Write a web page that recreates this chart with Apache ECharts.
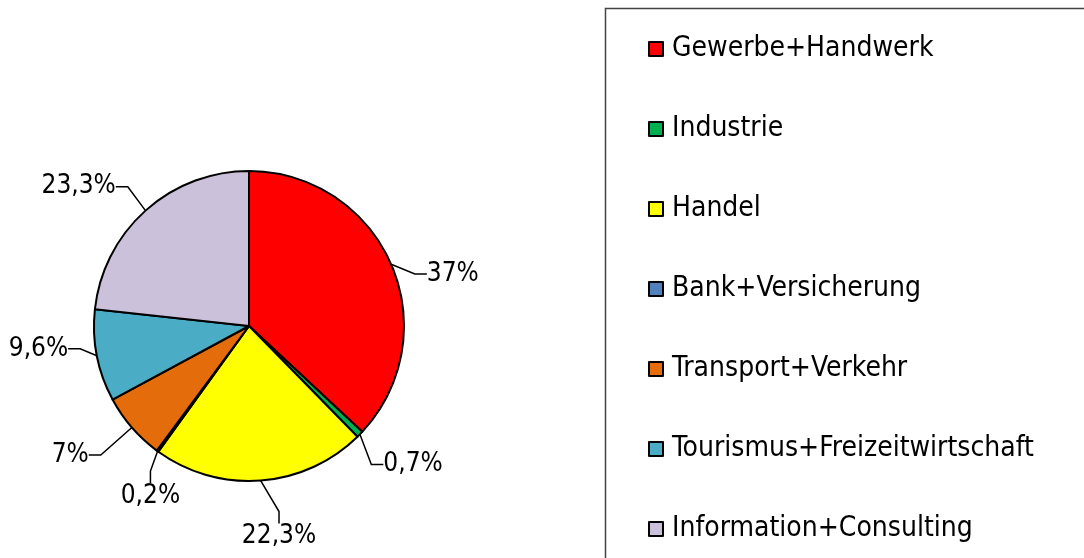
<!DOCTYPE html>
<html>
<head>
<meta charset="utf-8">
<script type="text/javascript" src="https://cdn.jsdelivr.net/npm/echarts@6/dist/echarts.min.js"></script>
<style>
 body { margin: 0; background: #fff; }
 #chart { width: 1084px; height: 558px; }
</style>
</head>
<body>
<div id="chart"></div>
<script type="text/javascript">
// branch names and shares (percent), clockwise from 12 o'clock
var branchNames = ['Gewerbe+Handwerk', 'Industrie', 'Handel', 'Bank+Versicherung',
                   'Transport+Verkehr', 'Tourismus+Freizeitwirtschaft', 'Information+Consulting'];
var branchShares = [37, 0.7, 22.3, 0.2, 7, 9.6, 23.3];
var branchColors = ['#ff0000', '#00b050', '#ffff00', '#4f81bd', '#e46c0a', '#4bacc6', '#ccc1da'];

// nudges of each percent label from where echarts puts it (excel places them a bit lower)
var labelNudgeX = [4, -5, -37, 49, -14, 4, -2];
var labelNudgeY = [16, 19, 40, 32, 17, -10, -12];

var fontName = '"DejaVu Sans Condensed", "DejaVu Sans", sans-serif';

var pieData = [];
for (var i = 0; i < branchNames.length; i++) {
 pieData.push({ name: branchNames[i], value: branchShares[i], itemStyle: { color: branchColors[i] } });
}

var cfg = {
 animation: false,
 backgroundColor: '#fff',
 graphic: [{
  // frame round the legend, cut off at the page edge like the original
  type: 'rect',
  shape: { x: 605.5, y: 8.5, width: 600, height: 600 },
  style: { fill: 'none', stroke: '#444', lineWidth: 1.5 },
  silent: true
 }],
 legend: {
  orient: 'vertical',
  left: 648,
  top: 34,
  padding: 0,
  itemWidth: 14,
  itemHeight: 14,
  itemGap: 50,
  icon: 'rect',
  selectedMode: false,
  itemStyle: { borderColor: '#000', borderWidth: 2 },
  textStyle: { fontFamily: fontName, fontSize: 28, lineHeight: 30, color: '#000', padding: [0, 0, 0, 4] },
  data: branchNames
 },
 series: [{
  type: 'pie',
  center: [249, 326],
  radius: 155,
  startAngle: 90,
  clockwise: true,
  avoidLabelOverlap: false,
  itemStyle: { borderColor: '#000', borderWidth: 2 },
  emphasis: { disabled: true },
  label: {
   show: true,
   fontFamily: fontName,
   fontSize: 26,
   color: '#000',
   formatter: function (p) { return String(p.value).replace('.', ',') + '%'; }
  },
  labelLine: { show: true, length: 16, length2: 12, lineStyle: { color: '#000', width: 1.5 } },
  labelLayout: function (params) {
   var r = params.labelRect;
   var i = params.dataIndex;
   return {
    x: r.x + labelNudgeX[i],
    y: r.y + labelNudgeY[i],
    align: 'left',
    verticalAlign: 'top'
   };
  },
  data: pieData
 }]
};

var myChart = echarts.init(document.getElementById('chart'));
myChart.setOption(cfg);
</script>
</body>
</html>
